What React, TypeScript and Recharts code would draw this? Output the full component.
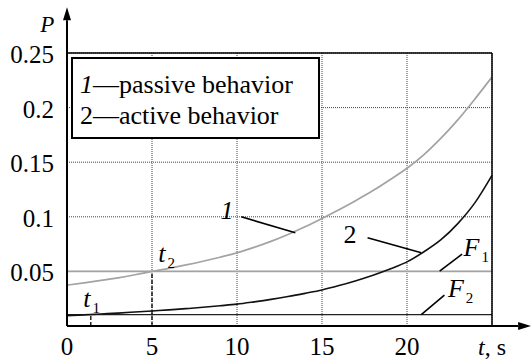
import React from 'react';
import {CartesianGrid, Legend, Line, LineChart, ReferenceDot, ReferenceLine, XAxis, YAxis} from 'recharts';

// time, s
const time = [0, 1, 2, 3, 4, 5, 6, 7, 8, 9, 10, 11, 12, 13, 14, 15, 16, 17, 18, 19, 20, 21, 22, 23, 24, 25];

// curve 1 - passive behavior
const passive = [0.0374, 0.0395, 0.0417, 0.0441, 0.0469, 0.0500, 0.0528, 0.0559, 0.0593, 0.0630, 0.0670, 0.0720,
  0.0775, 0.0838, 0.0908, 0.0985, 0.1065, 0.1150, 0.1240, 0.1340, 0.1445, 0.1570, 0.1720, 0.1890, 0.2080, 0.2280];

// curve 2 - active behavior
const active = [0.0095, 0.0102, 0.0110, 0.0118, 0.0128, 0.0138, 0.0148, 0.0159, 0.0171, 0.0185, 0.0200, 0.0221,
  0.0244, 0.0270, 0.0299, 0.0330, 0.0370, 0.0415, 0.0465, 0.0522, 0.0587, 0.0680, 0.0790, 0.0940, 0.1130, 0.1380];

const levelF1 = 0.05;
const levelF2 = 0.0105;
const t1 = 1.4;
const t2 = 5;

const xTicks = [0, 5, 10, 15, 20, 25];
const yTicks = [0.05, 0.1, 0.15, 0.2, 0.25];
const innerXTicks = [5, 10, 15, 20];
const innerYTicks = [0.05, 0.1, 0.15, 0.2];

const legendNumbers = ['1', '2'];
const legendNames = ['passive behavior', 'active behavior'];

const chartData = time.map((t, i) => ({t, passive: passive[i], active: active[i]}));

const FONT = 'Liberation Serif, Tinos, DejaVu Serif';
const GRAY = '#a3a3a3';

const XTick = (props: any) => {
  const {x, y, payload} = props;
  if (payload.value === 25) {
    return (
      <text x={x} y={y + 18} textAnchor="middle" fontFamily={FONT} fontSize={24} fill="#000">
        <tspan fontStyle="italic">t</tspan>, s
      </text>
    );
  }
  return <text x={x} y={y + 18} textAnchor="middle" fontFamily={FONT} fontSize={25} fill="#000">{payload.value}</text>;
};

const YTick = (props: any) => {
  const {x, y, payload} = props;
  return <text x={x} y={y + 10} textAnchor="end" fontFamily={FONT} fontSize={25} fill="#000">{payload.value}</text>;
};

const Arrow = (props: any) => {
  const {x1, y1, x2, y2} = props;
  const len = Math.hypot(x2 - x1, y2 - y1) || 1;
  const ux = (x2 - x1) / len;
  const uy = (y2 - y1) / len;
  const hl = 13;
  const hw = 4;
  const bx = x2 - ux * hl;
  const by = y2 - uy * hl;
  return (
    <g>
      <line x1={x1} y1={y1} x2={bx} y2={by} stroke="#000" strokeWidth={2}/>
      <polygon points={`${x2},${y2} ${bx - uy * hw},${by + ux * hw} ${bx + uy * hw},${by - ux * hw}`} fill="#000"/>
    </g>
  );
};

const label = (text: string, opts: {italic?: boolean, sub?: string, size?: number, anchor?: string} = {}) => (p: any) => (
  <text x={p.cx} y={p.cy} fontFamily={FONT} fontSize={opts.size || 26} fill="#000" textAnchor={opts.anchor || 'start'}>
    <tspan fontStyle={opts.italic ? 'italic' : 'normal'}>{text}</tspan>
    {opts.sub && <tspan fontSize={15} dy={6} dx={2}>{opts.sub}</tspan>}
  </text>
);

const LegendBox = () => (
  <div style={{
    width: 249, height: 82, boxSizing: 'border-box', border: '2px solid #000', background: '#fff',
    fontFamily: FONT, fontSize: 26, lineHeight: '31px', paddingTop: 10, paddingLeft: 7, textAlign: 'left', color: '#000',
  }}>
    {legendNames.map((name, i) => (
      <div key={name} style={{whiteSpace: 'nowrap'}}>
        <span style={{fontStyle: i === 0 ? 'italic' : 'normal'}}>{legendNumbers[i]}</span>—{name}
      </div>
    ))}
  </div>
);

const App = () => {
  return (
    <div style={{position: 'absolute', left: 0, top: 0, width: 531, height: 360, background: '#fff'}}>
      <LineChart width={531} height={360} data={chartData} margin={{top: 53, right: 39, bottom: 4, left: 7}}
                 style={{fontFamily: FONT}}>
        <CartesianGrid stroke="#444" strokeDasharray="1 1"/>
        <XAxis dataKey="t" type="number" domain={[0, 25]} ticks={xTicks} tick={<XTick/>} tickLine={false}
               axisLine={false} height={30} tickSize={6} tickMargin={5} interval={0}/>
        <YAxis type="number" domain={[0, 0.25]} ticks={yTicks} tick={<YTick/>} tickLine={false} axisLine={false}
               width={60} tickSize={6} tickMargin={7} interval={0}/>

        <XAxis xAxisId="top" orientation="top" type="number" domain={[0, 25]} ticks={innerXTicks} mirror
               tick={false} axisLine={false} tickSize={4} stroke="#000" interval={0}/>
        <XAxis xAxisId="bottom" orientation="bottom" type="number" domain={[0, 25]} ticks={innerXTicks} mirror
               tick={false} axisLine={false} tickSize={4} stroke="#000" interval={0}/>
        <YAxis yAxisId="right" orientation="right" type="number" domain={[0, 0.25]} ticks={innerYTicks} mirror
               tick={false} axisLine={false} tickSize={4} stroke="#000" interval={0}/>
        <YAxis yAxisId="left" orientation="left" type="number" domain={[0, 0.25]} ticks={innerYTicks} mirror
               tick={false} axisLine={false} tickSize={4} stroke="#000" interval={0}/>

        <ReferenceLine y={levelF1} stroke={GRAY} strokeWidth={1.6}/>
        <ReferenceLine y={levelF2} stroke="#222" strokeWidth={1.3}/>
        <ReferenceLine segment={[{x: t2, y: 0}, {x: t2, y: levelF1}]} stroke="#000" strokeWidth={1.3}
                       strokeDasharray="4 2"/>
        <ReferenceLine segment={[{x: t1, y: 0}, {x: t1, y: levelF2}]} stroke="#000" strokeWidth={1.3}
                       strokeDasharray="4 2"/>

        <Line dataKey="passive" type="monotone" stroke={GRAY} strokeWidth={1.7} dot={false}
              isAnimationActive={false}/>
        <Line dataKey="active" type="monotone" stroke="#111" strokeWidth={1.6} dot={false}
              isAnimationActive={false}/>

        {/* leaders */}
        <ReferenceLine segment={[{x: 10.25, y: 0.1}, {x: 13.43, y: 0.0854}]} stroke="#000" strokeWidth={1.6}/>
        <ReferenceLine segment={[{x: 17.68, y: 0.0808}, {x: 20.84, y: 0.067}]} stroke="#000" strokeWidth={1.6}/>
        <ReferenceLine segment={[{x: 21.92, y: 0.0502}, {x: 23.24, y: 0.0658}]} stroke="#000" strokeWidth={1.6}/>
        <ReferenceLine segment={[{x: 20.84, y: 0.0105}, {x: 22.2, y: 0.0282}]} stroke="#000" strokeWidth={1.6}/>

        <ReferenceDot x={9.79} y={0.0977} r={0} ifOverflow="visible" shape={label('1', {italic: true, anchor: 'end'})}/>
        <ReferenceDot x={16.64} y={0.0756} r={0} ifOverflow="visible" shape={label('2', {anchor: 'middle'})}/>
        <ReferenceDot x={23.33} y={0.064} r={0} ifOverflow="visible" shape={label('F', {italic: true, sub: '1'})}/>
        <ReferenceDot x={22.41} y={0.0266} r={0} ifOverflow="visible" shape={label('F', {italic: true, sub: '2'})}/>
        <ReferenceDot x={5.37} y={0.0587} r={0} ifOverflow="visible" shape={label('t', {italic: true, sub: '2'})}/>
        <ReferenceDot x={0.96} y={0.0174} r={0} ifOverflow="visible" shape={label('t', {italic: true, sub: '1'})}/>
        <ReferenceDot x={-1.57} y={0.269} r={0} ifOverflow="visible" shape={label('P', {italic: true, size: 23})}/>

        {/* frame and axes */}
        <ReferenceLine y={0.25} stroke="#000" strokeWidth={1.5}/>
        <ReferenceLine x={25} stroke="#000" strokeWidth={1.5}/>
        <ReferenceLine segment={[{x: 0, y: 0}, {x: 0, y: 0.292}]} ifOverflow="visible" shape={<Arrow/>}/>
        <ReferenceLine segment={[{x: 0, y: 0}, {x: 27.3, y: 0}]} ifOverflow="visible" shape={<Arrow/>}/>

        <Legend verticalAlign="middle" align="center" layout="horizontal" content={<LegendBox/>}
                wrapperStyle={{left: 71, top: 57, width: 249, height: 82}}/>
      </LineChart>
    </div>
  );
};

export default App;
